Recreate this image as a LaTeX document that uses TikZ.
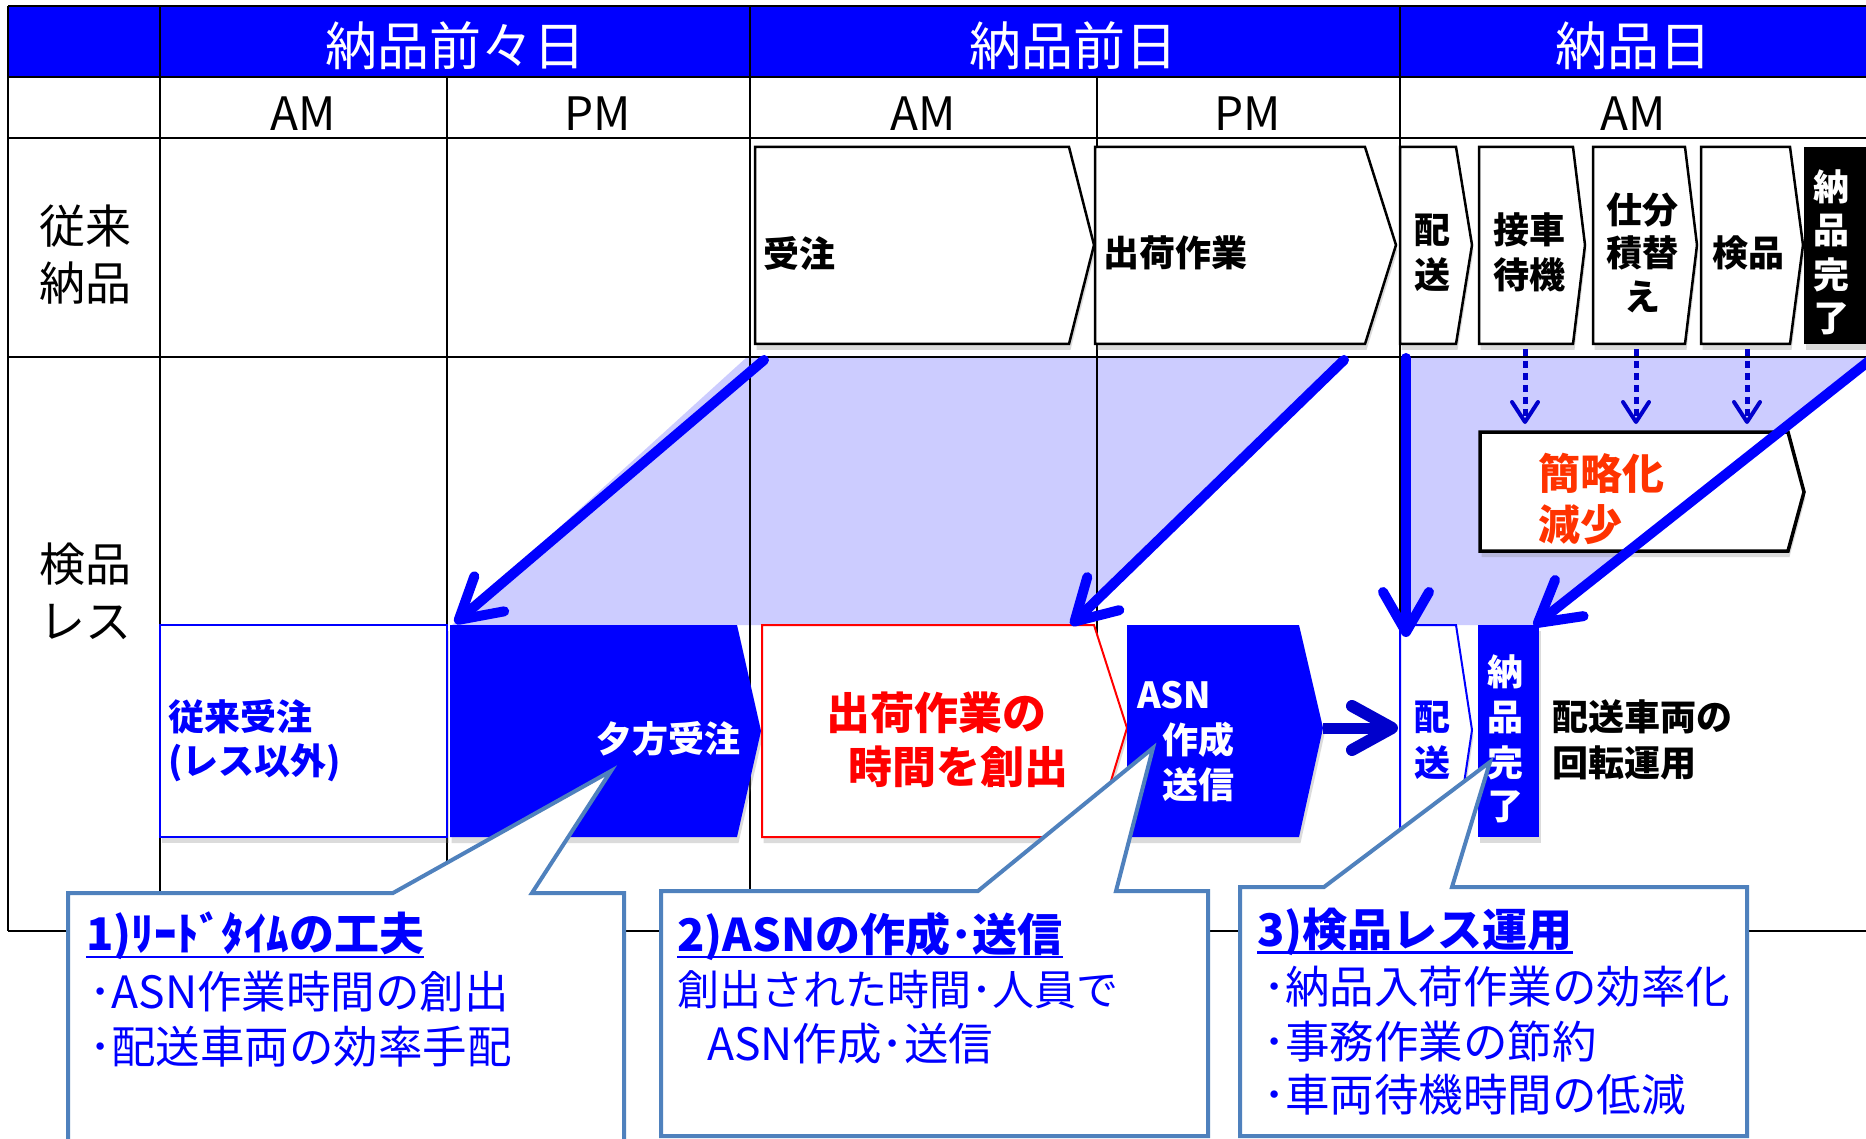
\documentclass[tikz,border=0pt]{standalone}
\usepackage{fontspec}
\setmainfont{Noto Sans CJK JP}
\usetikzlibrary{arrows.meta,shadows,calc}
\definecolor{hblue}{RGB}{0,0,255}
\definecolor{shadec}{RGB}{204,204,255}
\definecolor{callc}{RGB}{79,129,189}
\definecolor{darkarr}{RGB}{0,0,204}
\definecolor{redt}{RGB}{255,0,0}
\definecolor{orgred}{RGB}{255,51,0}
\newcommand\mychev[7]{\path[#1] (#2,#5) -- (#3,#5) -- (#4,#6) -- (#3,#7) -- (#2,#7) -- cycle;}
\tikzset{
  gridline/.style={draw=black, line width=2.5pt},
  hdrtxt/.style={text=white, font=\fontsize{52}{60}\selectfont, inner sep=0pt},
  ampm/.style={font=\fontsize{46}{55}\selectfont, inner sep=0pt},
  rowlab/.style={font=\fontsize{46}{55}\selectfont, inner sep=0pt},
  shad/.style={drop shadow={opacity=0.28, shadow xshift=1.5pt, shadow yshift=-6pt}},
  chevbox/.style={draw=black, line width=2.5pt, fill=white, line join=miter, shad},
  btxt/.style={font=\bfseries\fontsize{36}{44}\selectfont, inner sep=0pt},
  bigtxt/.style={font=\bfseries\fontsize{44}{52}\selectfont, inner sep=0pt},
  calltxt/.style={text=hblue, font=\fontsize{44.5}{52}\selectfont, inner sep=0pt, anchor=west},
  calltitle/.style={text=hblue, font=\bfseries\fontsize{45}{52}\selectfont, inner sep=0pt, anchor=west},
  callbox/.style={draw=callc, line width=4pt, fill=white, line join=miter},
  uline/.style={draw=hblue, line width=2.5pt},
  bigarrow/.style={draw=hblue, line width=10pt, line cap=round, -{Straight Barb[length=40pt, width=46pt, line width=10pt, round]}},
  fatarrow/.style={draw=darkarr, line width=11pt, -{Straight Barb[length=40pt, width=44pt, line width=12pt, round]}},
  dasharrow/.style={draw=darkarr, line width=5pt, dash pattern=on 7pt off 5pt, -{Straight Barb[length=20pt, width=26pt, line width=4pt, round]}},
}
\begin{document}
\begin{tikzpicture}[x=1pt,y=-1pt]
\useasboundingbox (0,0) rectangle (1866,1139);
\clip (0,0) rectangle (1866,1139);
\fill[white] (0,0) rectangle (1866,1139);

% shaded areas
\fill[shadec] (747,357) -- (1350,357) -- (1071,625) -- (452,625) -- cycle;
\fill[shadec] (1400,357) -- (1866,357) -- (1534,625) -- (1400,625) -- cycle;

% header
\fill[hblue] (8,6) rectangle (1866,77);

% grid
\foreach \yy in {6,77,138,357,931} \draw[gridline] (8,\yy) -- (1866,\yy);
\foreach \xx in {8,160,750} \draw[gridline] (\xx,6) -- (\xx,931);
\draw[gridline] (1400,6) -- (1400,837);
\draw[gridline] (447,77) -- (447,931);
\draw[gridline] (1097,77) -- (1097,837);

\node[hdrtxt] (h1) at (455,46) {納品前々日};
\node[hdrtxt] (h2) at (1073,46) {納品前日};
\node[hdrtxt] (h3) at (1633,46) {納品日};
\node[ampm] (am1) at (303,114) {AM};
\node[ampm] (pm1) at (598,114) {PM};
\node[ampm] (am2) at (923,114) {AM};
\node[ampm] (pm2) at (1248,114) {PM};
\node[ampm] (am3) at (1633,114) {AM};
\node[rowlab] (r1a) at (85,226) {従来};
\node[rowlab] (r1b) at (85,283) {納品};
\node[rowlab] (r2a) at (85,564) {検品};
\node[rowlab] (r2b) at (85,622) {レス};

% row 3 chevrons
\mychev{chevbox}{755}{1069}{1094}{147}{245}{344}
\mychev{chevbox}{1095}{1365}{1396}{147}{245}{344}
\mychev{chevbox}{1400}{1456}{1472}{147}{245}{344}
\mychev{chevbox}{1479}{1573}{1585}{147}{245}{344}
\mychev{chevbox}{1593}{1685}{1697}{147}{245}{344}
\mychev{chevbox}{1701}{1790}{1803}{147}{245}{344}
\path[fill=black, shad] (1804,147) rectangle (1872,344);
\node[btxt, anchor=west] (juchu) at (763,253) {受注};
\node[btxt, anchor=west] (shukka) at (1103,253) {出荷作業};
\node[btxt] (hai1) at (1432,230) {配};
\node[btxt] (so1) at (1432,275) {送};
\node[btxt] (sets1) at (1529,230) {接車};
\node[btxt] (sets2) at (1529,275) {待機};
\node[btxt] (shiw1) at (1642,210) {仕分};
\node[btxt] (shiw2) at (1642,253) {積替};
\node[btxt] (shiw3) at (1642,297) {え};
\node[btxt] (kenp) at (1748,253) {検品};
\node[btxt, text=white] (kan1) at (1831,187) {納};
\node[btxt, text=white] (kan2) at (1831,231) {品};
\node[btxt, text=white] (kan3) at (1831,275) {完};
\node[btxt, text=white] (kan4) at (1831,319) {了};

% dashed arrows
\coordinate (d1s) at (1525,349); \coordinate (d1e) at (1525,424);
\coordinate (d2s) at (1636,349); \coordinate (d2e) at (1636,424);
\coordinate (d3s) at (1747,349); \coordinate (d3e) at (1747,424);
\draw[dasharrow] (d1s) -- (d1e);
\draw[dasharrow] (d2s) -- (d2e);
\draw[dasharrow] (d3s) -- (d3e);

% simplification box
\mychev{chevbox, line width=3.5pt}{1480}{1788}{1804}{432}{492}{551}
\node[bigtxt, text=orgred, anchor=west, font=\bfseries\fontsize{42}{50}\selectfont] (kan) at (1538,473) {簡略化};
\node[bigtxt, text=orgred, anchor=west, font=\bfseries\fontsize{42}{50}\selectfont] (gen) at (1538,525) {減少};

% row 4 boxes
\path[draw=hblue, line width=2pt, fill=white, shad] (160,625) rectangle (447,837);
\node[btxt, text=hblue, anchor=west] (jr1) at (168,717) {従来受注};
\node[btxt, text=hblue, anchor=west] (jr2) at (168,763) {(レス以外)};
\mychev{fill=hblue, shad}{450}{737}{761}{625}{731}{837}
\node[btxt, text=white, anchor=east] (yu) at (741,739) {夕方受注};
\mychev{draw=redt, line width=2pt, fill=white, shad}{762}{1094}{1127}{625}{728}{837}
\node[bigtxt, text=redt] (cr1) at (936,713) {出荷作業の};
\node[bigtxt, text=redt] (cr2) at (958,767) {時間を創出};
\mychev{fill=hblue, shad}{1127}{1299}{1323}{625}{728}{837}
\node[btxt, text=white, anchor=west] (asn1) at (1137,695) {ASN};
\node[btxt, text=white, anchor=west] (asn2) at (1162,740) {作成};
\node[btxt, text=white, anchor=west] (asn3) at (1162,785) {送信};
\mychev{draw=hblue, line width=2pt, fill=white, shad}{1400}{1456}{1472}{625}{730}{837}
\node[btxt, text=hblue] (hb1) at (1432,717) {配};
\node[btxt, text=hblue] (hb2) at (1432,763) {送};
\path[fill=hblue, shad] (1478,625) rectangle (1539,837);
\node[btxt, text=white] (nk1) at (1505,672) {納};
\node[btxt, text=white] (nk2) at (1505,718) {品};
\node[btxt, text=white] (nk3) at (1505,763) {完};
\node[btxt, text=white] (nk4) at (1505,807) {了};
\node[btxt, anchor=west] (kai1) at (1552,717) {配送車両の};
\node[btxt, anchor=west] (kai2) at (1552,763) {回転運用};

% big arrows
\coordinate (a1s) at (764,360); \coordinate (a1e) at (455,623);
\coordinate (a2s) at (1344,360); \coordinate (a2e) at (1071,625);
\coordinate (a3s) at (1406,358); \coordinate (a3e) at (1406,637);
\coordinate (a4s) at (1874,357); \coordinate (a4e) at (1534,626);
\draw[bigarrow] (a1s) -- (a1e);
\draw[bigarrow] (a2s) -- (a2e);
\draw[bigarrow] (a3s) -- (a3e);
\draw[bigarrow] (a4s) -- (a4e);
\coordinate (asntip) at (1323,728); \coordinate (haisow) at (1398,728);
\draw[fatarrow] (asntip) -- (haisow);

% callouts
\path[callbox] (68,893) -- (393,893) -- (611,771) -- (532,893) -- (624,893) -- (624,1160) -- (68,1160) -- cycle;
\path[callbox] (661,891) -- (978,891) -- (1153,748) -- (1116,891) -- (1208,891) -- (1208,1136) -- (661,1136) -- cycle;
\path[callbox] (1240,887) -- (1324,887) -- (1490,762) -- (1452,887) -- (1747,887) -- (1747,1136) -- (1240,1136) -- cycle;

\node[calltitle] (c1t) at (86,936) {1)ﾘｰﾄﾞﾀｲﾑの工夫};
\draw[uline] ($(c1t.base west)+(0,6)$) -- ($(c1t.base east)+(0,6)$);
\node[calltxt] (c1a) at (89,992) {･ASN作業時間の創出};
\node[calltxt] (c1b) at (89,1047) {･配送車両の効率手配};

\node[calltitle] (c2t) at (677,936) {2)ASNの作成･送信};
\draw[uline] ($(c2t.base west)+(0,6)$) -- ($(c2t.base east)+(0,6)$);
\node[calltxt, font=\fontsize{42}{50}\selectfont] (c2a) at (677,990) {創出された時間･人員で};
\node[calltxt] (c2b) at (707,1044) {ASN作成･送信};

\node[calltitle] (c3t) at (1257,932) {3)検品レス運用};
\draw[uline] ($(c3t.base west)+(0,6)$) -- ($(c3t.base east)+(0,6)$);
\node[calltxt] (c3a) at (1263,987) {･納品入荷作業の効率化};
\node[calltxt] (c3b) at (1263,1042) {･事務作業の節約};
\node[calltxt] (c3c) at (1263,1095) {･車両待機時間の低減};
\end{tikzpicture}
\end{document}
